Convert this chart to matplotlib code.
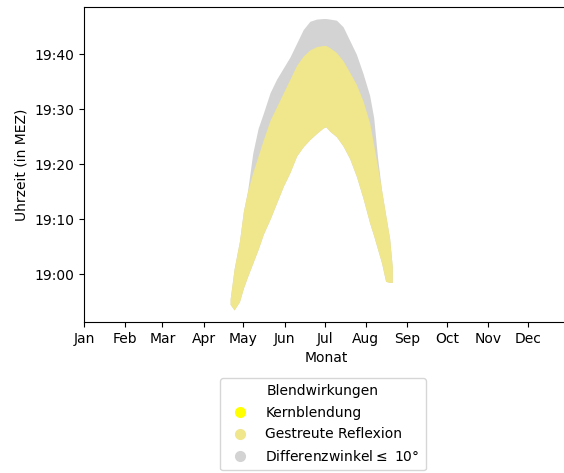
import matplotlib
matplotlib.use("Agg")
import matplotlib.pyplot as plt
from matplotlib.lines import Line2D

# day of year (0 = 1 Jan) and band edges in minutes after 19:00 (MEZ)
days = [110, 113, 117, 120, 123, 127, 131, 135, 140, 145, 150, 155, 160, 165,
        170, 175, 180, 182, 185, 190, 195, 200, 205, 210, 215, 218, 221, 224,
        227, 230, 232]
reflex_low = [-5.5, -6.5, -5.0, -2.5, -0.5, 2.0, 4.5, 7.3, 10.0, 13.0, 16.0, 18.5,
              21.5, 23.2, 24.5, 25.6, 26.6, 26.8, 26.0, 25.0, 23.3, 21.0, 17.8,
              13.8, 9.3, 7.0, 4.5, 2.0, -1.3, -1.5, -1.5]
reflex_high = [-4.5, 1.0, 6.0, 11.5, 15.0, 18.5, 21.5, 24.5, 28.0, 30.5, 33.0,
               35.5, 38.0, 39.7, 40.8, 41.4, 41.6, 41.6, 41.2, 40.3, 38.8, 36.7,
               34.5, 31.5, 27.5, 23.5, 19.5, 15.2, 10.8, 6.5, 1.3]
diff_high = [-4.5, 1.0, 6.0, 11.5, 15.0, 22.0, 26.5, 29.3, 33.0, 35.5, 37.5, 39.5,
             42.0, 44.5, 46.0, 46.4, 46.5, 46.5, 46.4, 46.2, 45.0, 42.5, 40.0,
             36.5, 32.5, 28.5, 21.0, 15.2, 10.8, 6.5, 1.3]

month_starts = [0, 31, 59, 90, 120, 151, 181, 212, 243, 273, 304, 334]
month_names = ["Jan", "Feb", "Mar", "Apr", "May", "Jun", "Jul", "Aug", "Sep",
               "Oct", "Nov", "Dec"]
time_ticks = [0, 10, 20, 30, 40]
time_labels = ["19:00", "19:10", "19:20", "19:30", "19:40"]

fig = plt.figure(figsize=(5.64, 4.73), dpi=100)
ax = fig.add_axes([84 / 564, 1 - 322 / 473, 485 / 564, 315 / 473])

ax.fill_between(days, reflex_low, diff_high, color="lightgrey", lw=0)
ax.fill_between(days, reflex_low, reflex_high, color="khaki", lw=0)

ax.set_xlim(0, 365)
ax.set_ylim(-8.7, 48.6)
ax.set_xticks(month_starts)
ax.set_xticklabels(month_names)
ax.set_yticks(time_ticks)
ax.set_yticklabels(time_labels)
ax.set_xlabel("Monat")
ax.set_ylabel("Uhrzeit (in MEZ)")

handles = [
    Line2D([], [], ls="", marker="o", color="yellow", markersize=7),
    Line2D([], [], ls="", marker="o", color="khaki", markersize=7),
    Line2D([], [], ls="", marker="o", color="lightgrey", markersize=7),
]
labels = ["Kernblendung", "Gestreute Reflexion", "Differenzwinkel$\\leq$ 10°"]
fig.legend(handles, labels, title="Blendwirkungen", loc="upper center",
           bbox_to_anchor=(323 / 564, 1 - 371 / 473), fontsize=10,
           title_fontsize=10, labelspacing=0.55, borderpad=0.45)

fig.savefig("out.png", dpi=100)
